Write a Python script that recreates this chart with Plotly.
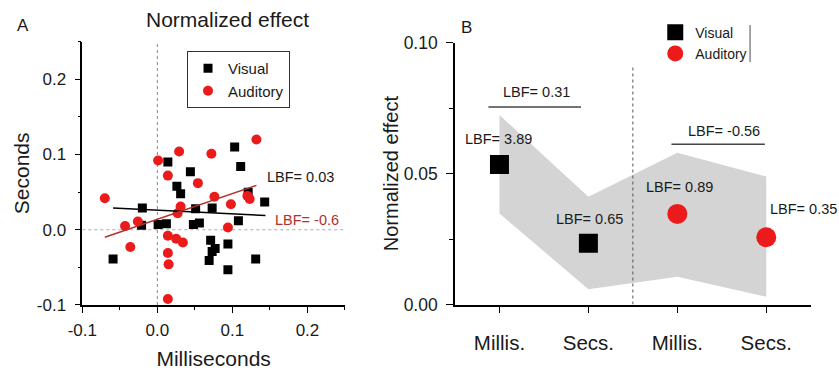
import plotly.graph_objects as go

# ---- Panel A: per-subject normalized effects (milliseconds vs seconds) ----
vis_ms = [0.014, 0.044, 0.026, 0.031, 0.103, 0.111, 0.121, 0.143, -0.020, 0.051,
          0.073, 0.108, -0.021, 0.001, 0.012, 0.048, 0.056, 0.071, 0.094, 0.077,
          0.073, 0.069, 0.094, 0.131, -0.059]
vis_s = [0.090, 0.077, 0.058, 0.048, 0.110, 0.084, 0.050, 0.037, 0.029, 0.028,
         0.029, 0.012, 0.006, 0.007, 0.008, 0.007, 0.009, -0.014, -0.019, -0.025,
         -0.029, -0.041, -0.053, -0.039, -0.039]

aud_ms = [-0.070, 0.001, 0.029, 0.014, 0.072, 0.132, 0.054, 0.076, 0.098, 0.120,
          0.123, 0.031, 0.027, -0.043, -0.026, 0.094, -0.036, 0.014, 0.025, 0.034,
          0.014, 0.015, 0.014]
aud_s = [0.042, 0.092, 0.104, 0.072, 0.101, 0.120, 0.062, 0.044, 0.034, 0.045,
         0.041, 0.031, 0.022, 0.005, 0.011, 0.003, -0.023, -0.008, -0.012, -0.017,
         -0.031, -0.046, -0.092]

# regression lines (end points)
fit_vis_x = [-0.059, 0.144]
fit_vis_y = [0.029, 0.019]
fit_aud_x = [-0.070, 0.132]
fit_aud_y = [-0.010, 0.059]

lbf_a_vis = "LBF= 0.03"
lbf_a_aud = "LBF= -0.6"

# ---- Panel B: group means with credible band ----
b_pos = [1, 2, 3, 4]
b_ticklabels = ["Millis.", "Secs.", "Millis.", "Secs."]
b_visual = [0.0535, 0.0234]
b_auditory = [0.0346, 0.0257]
band_upper = [0.0724, 0.0412, 0.0580, 0.0489]
band_lower = [0.0348, 0.0058, 0.0106, 0.0030]
b_lbf_text = ["LBF= 3.89", "LBF= 0.65", "LBF= 0.89", "LBF= 0.35"]
b_pair_text = ["LBF= 0.31", "LBF= -0.56"]

RED = "#ec1b1b"
DARKRED = "#b3302c"
FONT = "Arial, Liberation Sans, sans-serif"
TXT = "#1a1a1a"

fig = go.Figure()

# Panel A traces
fig.add_trace(go.Scatter(x=vis_ms, y=vis_s, mode="markers", name="Visual",
                         marker=dict(symbol="square", size=9, color="black", line=dict(width=0)),
                         xaxis="x", yaxis="y", legend="legend"))
fig.add_trace(go.Scatter(x=aud_ms, y=aud_s, mode="markers", name="Auditory",
                         marker=dict(symbol="circle", size=10, color=RED, line=dict(width=0)),
                         xaxis="x", yaxis="y", legend="legend"))
fig.add_trace(go.Scatter(x=fit_vis_x, y=fit_vis_y, mode="lines", showlegend=False,
                         line=dict(color="black", width=1.5), xaxis="x", yaxis="y"))
fig.add_trace(go.Scatter(x=fit_aud_x, y=fit_aud_y, mode="lines", showlegend=False,
                         line=dict(color=DARKRED, width=1.5), xaxis="x", yaxis="y"))

# Panel B traces
fig.add_trace(go.Scatter(x=b_pos + b_pos[::-1], y=band_upper + band_lower[::-1],
                         mode="lines", fill="toself", fillcolor="#d4d4d4",
                         line=dict(width=0), showlegend=False, hoverinfo="skip",
                         xaxis="x2", yaxis="y2"))
fig.add_trace(go.Scatter(x=b_pos[:2], y=b_visual, mode="markers", name="Visual",
                         marker=dict(symbol="square", size=19, color="black", line=dict(width=0)),
                         xaxis="x2", yaxis="y2", legend="legend2"))
fig.add_trace(go.Scatter(x=b_pos[2:], y=b_auditory, mode="markers", name="Auditory",
                         marker=dict(symbol="circle", size=20, color=RED, line=dict(width=0)),
                         xaxis="x2", yaxis="y2", legend="legend2"))

axis_common = dict(showline=True, linecolor="black", linewidth=1.6, showgrid=False,
                   zeroline=False, ticks="outside", tickwidth=1.4, tickcolor="black",
                   mirror=False, automargin=False)

fig.update_layout(
    template="none",
    width=839, height=370,
    margin=dict(l=0, r=0, t=0, b=0, pad=0),
    paper_bgcolor="white", plot_bgcolor="rgba(0,0,0,0)",
    font=dict(family=FONT, color=TXT),
    xaxis=dict(**axis_common, domain=[0.0981, 0.4112], anchor="y", range=[-0.1, 0.25],
               tickvals=[-0.1, 0, 0.1, 0.2], ticktext=["-0.1", "0.0", "0.1", "0.2"],
               ticklen=6, tickfont=dict(size=17), ticklabelstandoff=3,
               minor=dict(tickvals=[-0.05, 0.05, 0.15, 0.25], ticklen=3, ticks="outside",
                          tickcolor="black", tickwidth=1.4),
               title=dict(text="Milliseconds", font=dict(size=21), standoff=12)),
    yaxis=dict(**axis_common, domain=[0.1757, 0.8873], anchor="x", range=[-0.1, 0.25],
               tickvals=[-0.1, 0, 0.1, 0.2], ticktext=["-0.1", "0.0", "0.1", "0.2"],
               ticklen=6, tickfont=dict(size=17), ticklabelstandoff=5,
               minor=dict(tickvals=[-0.05, 0.05, 0.15, 0.25], ticklen=3, ticks="outside",
                          tickcolor="black", tickwidth=1.4),
               title=dict(text="Seconds", font=dict(size=21), standoff=1)),
    xaxis2=dict(**axis_common, domain=[0.5423, 0.9663], anchor="y2", range=[0.5, 4.5],
                tickvals=b_pos, ticktext=b_ticklabels, ticklen=7,
                tickfont=dict(size=20.5), ticklabelstandoff=12),
    yaxis2=dict(**axis_common, domain=[0.177, 0.8846], anchor="x2", range=[0, 0.1],
                tickvals=[0, 0.05, 0.1], ticktext=["0.00", "0.05", "0.10"],
                ticklen=7, tickfont=dict(size=17.5), ticklabelstandoff=5,
                minor=dict(tickvals=[0.025, 0.075], ticklen=4, ticks="outside",
                           tickcolor="black", tickwidth=1.4),
                title=dict(text="Normalized effect", font=dict(size=20), standoff=0)),
    legend=dict(x=0.2229, y=0.8622, xanchor="left", yanchor="top",
                bordercolor="#333", borderwidth=1, bgcolor="white",
                font=dict(size=15), tracegroupgap=0, itemsizing="trace"),
    legend2=dict(x=0.781, y=0.955, xanchor="left", yanchor="top",
                 borderwidth=0, bgcolor="rgba(0,0,0,0)",
                 font=dict(size=14), tracegroupgap=0, itemsizing="trace"),
)

shapes = [
    # zero reference lines in panel A
    dict(type="line", xref="x", yref="y", x0=0, x1=0, y0=-0.1, y1=0.25,
         line=dict(color="#888", width=1, dash="dot"), layer="below"),
    dict(type="line", xref="x", yref="y", x0=-0.1, x1=0.25, y0=0, y1=0,
         line=dict(color="#aaa", width=1, dash="dot"), layer="below"),
    # separator between modalities in panel B
    dict(type="line", xref="x2", yref="y2", x0=2.5, x1=2.5, y0=0, y1=0.0915,
         line=dict(color="#555", width=1, dash="dot"), layer="above"),
    # comparison brackets in panel B
    dict(type="line", xref="x2", yref="y2", x0=0.876, x1=1.917, y0=0.0754, y1=0.0754,
         line=dict(color="#444", width=1.5)),
    dict(type="line", xref="x2", yref="y2", x0=2.934, x1=3.984, y0=0.0612, y1=0.0612,
         line=dict(color="#444", width=1.5)),
    # right edge of the panel B legend frame
    dict(type="line", xref="paper", yref="paper", x0=0.894, x1=0.894, y0=0.8324, y1=0.9324,
         line=dict(color="#888", width=1.5)),
]
fig.update_layout(shapes=shapes)

ann = [
    dict(text="A", x=0.0274, y=0.9324, xref="paper", yref="paper", showarrow=False,
         xanchor="center", yanchor="middle", font=dict(size=17)),
    dict(text="B", x=0.5566, y=0.927, xref="paper", yref="paper", showarrow=False,
         xanchor="center", yanchor="middle", font=dict(size=17)),
    dict(text="Normalized effect", x=0.2712, y=0.946, xref="paper", yref="paper",
         xanchor="center", yanchor="middle", showarrow=False, font=dict(size=21)),
    dict(text=lbf_a_vis, x=0.1434, y=0.0708, xref="x", yref="y", xanchor="left",
         showarrow=False, font=dict(size=14.5)),
    dict(text=lbf_a_aud, x=0.1545, y=0.0127, xref="x", yref="y", xanchor="left",
         showarrow=False, font=dict(size=14.5, color=DARKRED)),
    dict(text=b_pair_text[0], x=1.42, y=0.0813, xref="x2", yref="y2", showarrow=False,
         font=dict(size=14.5)),
    dict(text=b_pair_text[1], x=3.53, y=0.0663, xref="x2", yref="y2", showarrow=False,
         font=dict(size=14.5)),
]
lbf_pos = [(0.99, 0.0631), (2.01, 0.0327), (3.03, 0.0448), (4.42, 0.0365)]
for t, (lx, ly) in zip(b_lbf_text, lbf_pos):
    ann.append(dict(text=t, x=lx, y=ly, xref="x2", yref="y2", showarrow=False,
                    font=dict(size=14.5)))
fig.update_layout(annotations=ann)

fig.write_html("out.html")
